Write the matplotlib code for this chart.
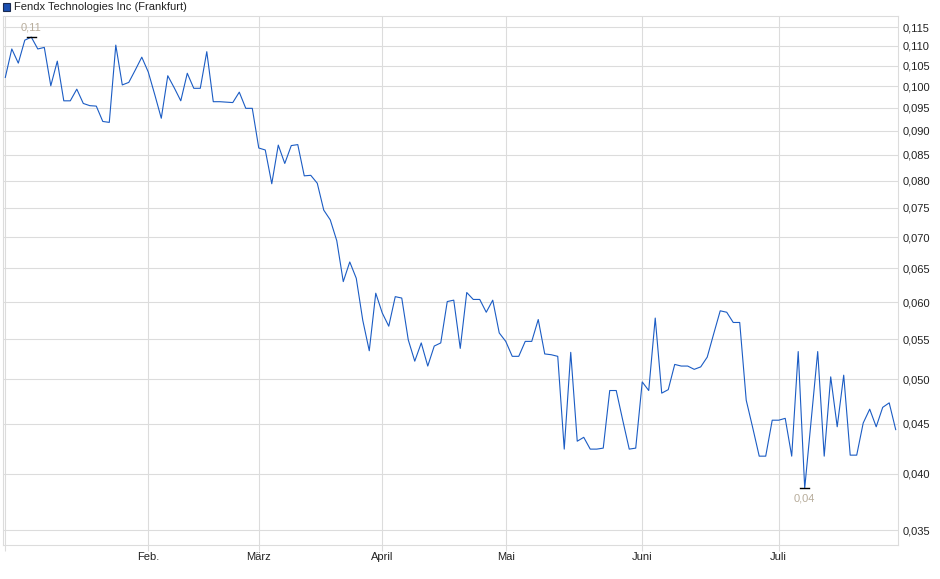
import numpy as np
import matplotlib.pyplot as plt
from matplotlib.patches import Rectangle
from matplotlib.ticker import FixedLocator, FixedFormatter, NullLocator

plt.rcParams['font.family'] = ['Liberation Sans', 'DejaVu Sans']

title = "Fendx Technologies Inc (Frankfurt)"

# one value per trading day (EUR)
prices = [
    0.1021, 0.1092, 0.1056, 0.1115, 0.1123, 0.1092, 0.1096, 0.1001, 0.1061, 0.0966,
    0.0966, 0.0993, 0.0960, 0.0955, 0.0954, 0.0920, 0.0918, 0.1102, 0.1003, 0.1009,
    0.1039, 0.1071, 0.1034, 0.0980, 0.0927, 0.1025, 0.0996, 0.0966, 0.1031, 0.0995,
    0.0995, 0.1085, 0.0964, 0.0964, 0.0963, 0.0962, 0.0986, 0.0949, 0.0949, 0.0864,
    0.0860, 0.0794, 0.0870, 0.0833, 0.0869, 0.0871, 0.0809, 0.0810, 0.0795, 0.0746,
    0.0729, 0.0694, 0.0630, 0.0660, 0.0635, 0.0575, 0.0535, 0.0613, 0.0585, 0.0567,
    0.0608, 0.0606, 0.0549, 0.0522, 0.0545, 0.0516, 0.0541, 0.0545, 0.0601, 0.0603,
    0.0538, 0.0614, 0.0604, 0.0604, 0.0586, 0.0603, 0.0558, 0.0547, 0.0528, 0.0528,
    0.0547, 0.0547, 0.0576, 0.0531, 0.0530, 0.0528, 0.0424, 0.0533, 0.0432, 0.0436,
    0.0424, 0.0424, 0.0425, 0.0487, 0.0487, 0.0454, 0.0424, 0.0425, 0.0497, 0.0487,
    0.0578, 0.0484, 0.0488, 0.0518, 0.0516, 0.0516, 0.0512, 0.0515, 0.0527, 0.0557,
    0.0588, 0.0586, 0.0572, 0.0572, 0.0476, 0.0446, 0.0417, 0.0417, 0.0454, 0.0454,
    0.0456, 0.0417, 0.0534, 0.03865, 0.0454, 0.0534, 0.0417, 0.0503, 0.0447, 0.0505,
    0.0418, 0.0418, 0.0451, 0.0466, 0.0447, 0.0468, 0.0473, 0.0444,
]

# index of the first trading day of each month
month_start = [0, 22, 39, 58, 77, 98, 119]
month_labels = ["", "Feb.", "März", "April", "Mai", "Juni", "Juli"]

y_ticks = [0.035, 0.040, 0.045, 0.050, 0.055, 0.060, 0.065, 0.070, 0.075,
           0.080, 0.085, 0.090, 0.095, 0.100, 0.105, 0.110, 0.115]

GRID = '#dcdcdc'
LINE = '#1b5cc4'
NOTE = '#b8ad9c'

W, H = 940, 579
fig = plt.figure(figsize=(W / 100, H / 100), dpi=100)
ax = fig.add_axes([2.7 / W, 34 / H, (898.3 - 2.7) / W, (545 - 16) / H])

x = np.arange(len(prices))
ax.plot(x, prices, color=LINE, lw=0.8, zorder=3)

ax.set_yscale('log')
ax.set_ylim(0.0338, 0.11805)
ax.set_xlim(-0.4, len(prices) - 0.6)

ax.yaxis.set_major_locator(FixedLocator(y_ticks))
ax.yaxis.set_major_formatter(FixedFormatter([f"{v:.3f}".replace('.', ',') for v in y_ticks]))
ax.yaxis.set_minor_locator(NullLocator())
ax.yaxis.tick_right()
ax.tick_params(axis='y', length=0, pad=3, labelsize=8, labelcolor='#222222')

ax.xaxis.set_major_locator(FixedLocator(month_start))
ax.xaxis.set_major_formatter(FixedFormatter(month_labels))
ax.xaxis.set_minor_locator(NullLocator())
ax.tick_params(axis='x', length=4, width=0.8, color=GRID, pad=1, labelsize=8,
               labelcolor='#222222')

ax.grid(True, color=GRID, lw=0.8, zorder=0)
for s in ax.spines.values():
    s.set_color(GRID)
    s.set_linewidth(0.8)

# high / low markers
for idx, above in [(int(np.argmax(prices)), True), (int(np.argmin(prices)), False)]:
    v = prices[idx]
    ax.plot([idx - 0.7, idx + 0.7], [v, v], color='black', lw=1.0, zorder=4)
    ax.annotate(f"{v:.2f}".replace('.', ','), (idx, v),
                xytext=(0, 3 if above else -4), textcoords='offset points',
                ha='center', va='bottom' if above else 'top',
                fontsize=8, color=NOTE)

# legend-like header
fig.patches.append(Rectangle((3 / W, 1 - 10.5 / H), 7 / W, 7 / H,
                             transform=fig.transFigure, facecolor='#1a4fb0',
                             edgecolor='#1a2a50', lw=0.8))
fig.text(14 / W, 1 - 7 / H, title, fontsize=8, va='center', ha='left', color='#222222')

fig.savefig('out.png', dpi=100)
